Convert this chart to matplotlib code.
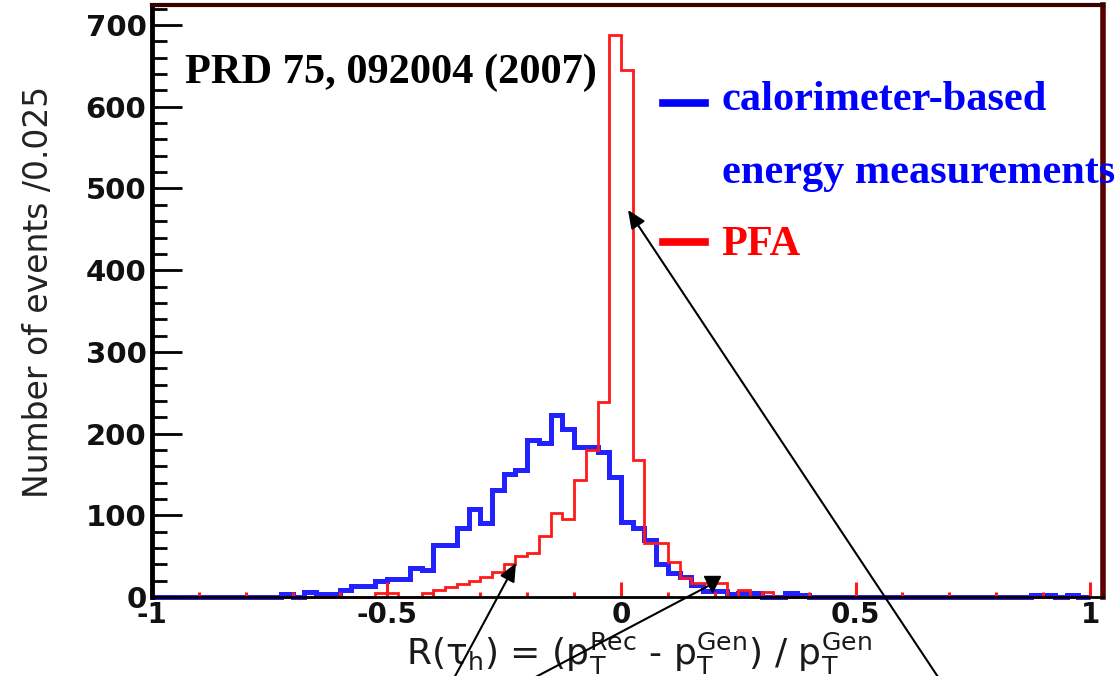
import numpy as np
import matplotlib
matplotlib.use("Agg")
import matplotlib.pyplot as plt
from matplotlib.ticker import MultipleLocator, FixedLocator
from matplotlib import font_manager

# histogram binning: 80 bins of 0.025 from -1 to 1
bin_lo, bin_hi, n_bins = -1.0, 1.0, 80

# calorimeter-based energy measurement (blue)
calo_counts = [
    0, 0, 0, 0, 0, 0, 0, 0, 0, 0,
    0, 4, 0, 6, 4, 4, 9, 13, 13, 19,
    22, 22, 36, 33, 64, 64, 85, 108, 90, 131,
    150, 156, 192, 189, 223, 206, 183, 183, 177, 147,
    92, 84, 70, 41, 29, 25, 15, 7, 7, 4,
    5, 5, 0, 0, 5, 3, 0, 0, 0, 0,
    0, 0, 0, 0, 0, 0, 0, 0, 0, 0,
    0, 0, 0, 0, 0, 2, 2, 0, 2, 0,
]

# particle flow algorithm (red)
pfa_counts = [
    0, 0, 0, 0, 0, 0, 0, 0, 0, 0,
    0, 0, 0, 0, 0, 0, 0, 0, 0, 5,
    5, 0, 0, 5, 8, 12, 16, 19, 24, 31,
    41, 50, 54, 75, 103, 95, 143, 180, 239, 688,
    645, 168, 66, 66, 43, 23, 17, 17, 17, 0,
    8, 0, 6, 0, 0, 0, 0, 0, 0, 0,
    0, 0, 0, 0, 0, 0, 0, 0, 0, 0,
    0, 0, 0, 0, 0, 0, 0, 0, 0, 0,
]

xtick_values = [-1, -0.5, 0, 0.5, 1]
xtick_labels = ["-1", "-0.5", "0", "0.5", "1"]
ytick_values = [0, 100, 200, 300, 400, 500, 600, 700]

calo_label = ["calorimeter-based", "energy measurements"]
pfa_label = "PFA"
ref_text = "PRD 75, 092004 (2007)"

edges = np.linspace(bin_lo, bin_hi, n_bins + 1)

installed = {f.name for f in font_manager.fontManager.ttflist}
if "Liberation Sans Narrow" in installed:
    ylab_font, ylab_size = "Liberation Sans Narrow", 32
else:
    ylab_font, ylab_size = "DejaVu Sans", 23.8

fig = plt.figure(figsize=(11.2, 6.76), dpi=100)
ax = fig.add_axes([152 / 1120, 79 / 676, 951 / 1120, 592 / 676])

ax.stairs(calo_counts, edges, color="#2222ff", linewidth=3.6, clip_on=False, zorder=1)
ax.stairs(pfa_counts, edges, color="#ff1a1a", linewidth=2.0, clip_on=False, zorder=1.5)

ax.set_xlim(-1.0, 1.0277)
ax.set_ylim(0, 724.6)

ax.xaxis.set_major_locator(FixedLocator(xtick_values))
ax.set_xticklabels(xtick_labels)
ax.xaxis.set_minor_locator(MultipleLocator(0.1))
ax.yaxis.set_major_locator(FixedLocator(ytick_values))
ax.yaxis.set_minor_locator(MultipleLocator(20))

ax.tick_params(axis="x", which="major", direction="in", length=10.8, width=2.2,
               color="#ff1a1a", pad=3, labelsize=20, top=False)
ax.tick_params(axis="x", which="minor", direction="in", length=3.6, width=2.2,
               color="#ff1a1a", top=False)
ax.tick_params(axis="y", which="major", direction="in", length=21.6, width=2.0,
               color="k", pad=4, labelsize=21, right=False)
ax.tick_params(axis="y", which="minor", direction="in", length=10.8, width=2.0,
               color="k", right=False)
for lab in ax.get_xticklabels() + ax.get_yticklabels():
    lab.set_fontweight("bold")
    lab.set_color("#111111")

ax.spines["left"].set_linewidth(3.5)
ax.spines["left"].set_color("black")
ax.spines["bottom"].set_linewidth(2.0)
ax.spines["bottom"].set_color("black")
ax.spines["top"].set_linewidth(3.0)
ax.spines["top"].set_color("#3a0000")
ax.spines["right"].set_linewidth(4.0)
ax.spines["right"].set_color("#5a0000")

ax.set_xlabel(r"R(τ$_{\mathrm{h}}$) = (p$_{\mathrm{T}}^{\mathrm{Rec}}$ - p$_{\mathrm{T}}^{\mathrm{Gen}}$)"
              r" / p$_{\mathrm{T}}^{\mathrm{Gen}}$", fontsize=26, color="#1a1a1a")
ax.xaxis.label.set_va("baseline")
ax.xaxis.set_label_coords(0.512, -0.1149)
ax.set_ylabel("Number of events /0.025", fontsize=ylab_size, family=ylab_font, color="#222222")
ax.yaxis.set_label_coords(-0.102, 0.515)

serif = dict(family="Liberation Serif", fontweight="bold", fontsize=30.5)
ax.text(0.0347, 0.868, ref_text, transform=ax.transAxes, color="black", va="baseline", **serif)

# legend drawn by hand, ROOT style
ax.plot([0.537, 0.581], [0.834, 0.834], transform=ax.transAxes, color="#0000ff", lw=5.5)
ax.plot([0.537, 0.581], [0.599, 0.599], transform=ax.transAxes, color="#ff0000", lw=5.5)
ax.text(0.599, 0.823, calo_label[0], transform=ax.transAxes, color="#0000ff", va="baseline", **serif)
ax.text(0.599, 0.699, calo_label[1], transform=ax.transAxes, color="#0000ff", va="baseline", **serif)
ax.text(0.599, 0.578, pfa_label, transform=ax.transAxes, color="#ff0000", va="baseline", **serif)

# arrows pointing at the distributions (figure pixels, origin bottom-left)
arrow = dict(arrowstyle="-|>,head_length=0.5,head_width=0.22", color="black", lw=1.5,
             mutation_scale=22, shrinkA=0, shrinkB=0)
ax.annotate("", xy=(628, 676 - 210), xytext=(940, -4), xycoords="figure pixels",
            textcoords="figure pixels", arrowprops=arrow)
ax.annotate("", xy=(516, 676 - 563), xytext=(453, -4), xycoords="figure pixels",
            textcoords="figure pixels", arrowprops=arrow)
ax.annotate("", xy=(712, 676 - 584), xytext=(530, -4), xycoords="figure pixels",
            textcoords="figure pixels",
            arrowprops=dict(arrowstyle="-", color="black", lw=1.5, shrinkA=0, shrinkB=0))
ax.plot([712 / 1120], [(676 - 584) / 676], marker="v", markersize=12, color="black",
        transform=fig.transFigure, clip_on=False)

fig.savefig("out.png", dpi=100, facecolor="white")
